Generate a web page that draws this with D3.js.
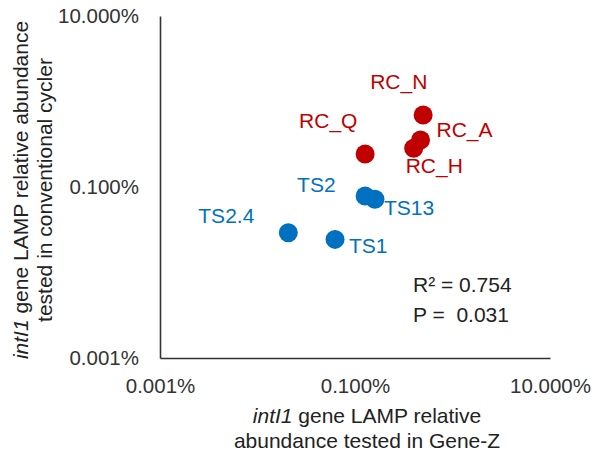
<!DOCTYPE html>
<html>
<head>
<meta charset="utf-8">
<script src="https://cdn.jsdelivr.net/npm/d3@7"></script>
<style>
  html, body { margin: 0; padding: 0; background: #fff; }
  svg { display: block; font-family: "Liberation Sans", Arial, sans-serif; }
</style>
</head>
<body>
<svg id="chart" width="601" height="458"></svg>
<script>
// ---- data (values in %) ----
const sampleNames = ["RC_N", "RC_A", "RC_H", "RC_Q", "TS2", "TS13", "TS2.4", "TS1"];
const sampleGroups = ["RC", "RC", "RC", "RC", "TS", "TS", "TS", "TS"];
const geneZValues = [0.50, 0.47, 0.40, 0.127, 0.127, 0.160, 0.0207, 0.0624];
const cyclerValues = [0.695, 0.355, 0.284, 0.243, 0.0785, 0.0718, 0.0292, 0.0244];
const axisTicks = [0.001, 0.1, 10];
const statLines = ["R\u00B2 = 0.754", "P =  0.031"];

// ---- label placement (pixels relative to the point) ----
const labelOffsets = [[-53, -26], [16, -3], [-8, 25], [-66, -26], [-68, -4], [9, 16], [-90, -10], [14, 14]];
const groupColors = { RC: "#C00000", TS: "#0070C0" };

const svg = d3.select("#chart");
const x = d3.scaleLog().domain([0.001, 10]).range([160, 550]);
const y = d3.scaleLog().domain([0.001, 10]).range([358, 16]);
const fmt = d => d.toFixed(3) + "%";

const gx = svg.append("g").attr("transform", "translate(0,358)")
  .call(d3.axisBottom(x).tickValues(axisTicks).tickFormat(fmt).tickSize(0).tickPadding(20));
const gy = svg.append("g").attr("transform", "translate(160,0)")
  .call(d3.axisLeft(y).tickValues(axisTicks).tickFormat(fmt).tickSize(0).tickPadding(21));
[gx, gy].forEach(g => {
  g.select(".domain").attr("stroke", "#333").attr("stroke-width", 1.6);
  g.selectAll("text").attr("font-size", 20.5).attr("fill", "#333")
    .attr("font-family", "'Liberation Sans', Arial, sans-serif");
});

const data = sampleNames.map((n, i) => ({ name: n, group: sampleGroups[i], gx: geneZValues[i], cy: cyclerValues[i], off: labelOffsets[i] }));

svg.append("g").selectAll("circle").data(data).join("circle")
  .attr("cx", d => x(d.gx)).attr("cy", d => y(d.cy)).attr("r", 9.5)
  .attr("fill", d => groupColors[d.group]);

svg.append("g").selectAll("text").data(data).join("text")
  .attr("x", d => x(d.gx) + d.off[0]).attr("y", d => y(d.cy) + d.off[1])
  .attr("font-size", 21).attr("fill", d => groupColors[d.group])
  .text(d => d.name);

// stats
svg.append("g").selectAll("text").data(statLines).join("text")
  .attr("x", 413).attr("y", (d, i) => 292 + i * 30)
  .attr("font-size", 21).attr("fill", "#222")
  .style("white-space", "pre").attr("xml:space", "preserve")
  .text(d => d);

// x axis title
const xt = svg.append("text").attr("x", 367).attr("y", 423).attr("text-anchor", "middle")
  .attr("font-size", 21).attr("fill", "#222");
xt.append("tspan").attr("font-style", "italic").text("intI1");
xt.append("tspan").text(" gene LAMP relative");
svg.append("text").attr("x", 367).attr("y", 448).attr("text-anchor", "middle")
  .attr("font-size", 21).attr("fill", "#222").text("abundance tested in Gene-Z");

// y axis title
const yt = svg.append("text").attr("transform", "translate(28,190) rotate(-90)")
  .attr("text-anchor", "middle").attr("font-size", 21).attr("fill", "#222");
yt.append("tspan").attr("font-style", "italic").text("intI1");
yt.append("tspan").text(" gene LAMP relative abundance");
svg.append("text").attr("transform", "translate(52,190) rotate(-90)")
  .attr("text-anchor", "middle").attr("font-size", 21).attr("fill", "#222")
  .text("tested in conventional cycler");
</script>
</body>
</html>
